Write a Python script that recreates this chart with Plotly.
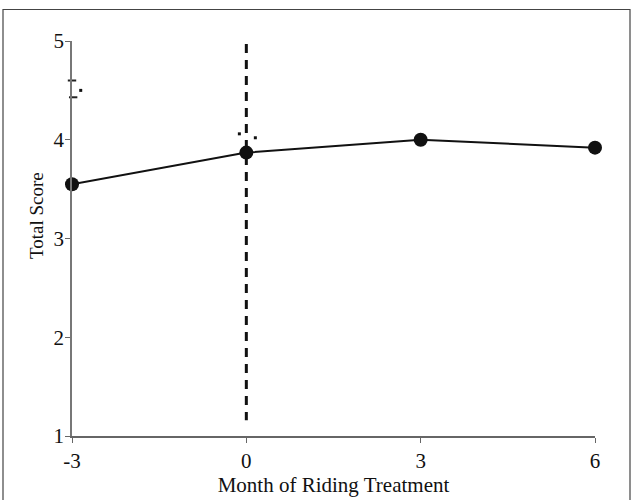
import plotly.graph_objects as go

months = [-3, 0, 3, 6]
total_score = [3.55, 3.87, 4.00, 3.92]

# small stray marks visible in the reference
dot_x = [-2.85, -0.12, 0.155]
dot_y = [4.50, 4.06, 4.02]
cap_x = [-3, -2.98]
cap_y = [4.60, 4.43]

treatment_start = 0
dash_range = [4.97, 1.16]

x_ticks = [-3, 0, 3, 6]
y_ticks = [1, 2, 3, 4, 5]

FONT = "Liberation Serif"

fig = go.Figure()

fig.add_shape(type="line", xref="x", yref="y",
              x0=treatment_start, x1=treatment_start,
              y0=dash_range[0], y1=dash_range[1],
              line=dict(color="#111111", width=3, dash="9px,7px"))

fig.add_trace(go.Scatter(x=months, y=total_score, mode="lines+markers",
                         line=dict(color="#111111", width=2),
                         marker=dict(size=14, color="#111111"),
                         showlegend=False, cliponaxis=False))

fig.add_trace(go.Scatter(x=dot_x, y=dot_y, mode="markers",
                         marker=dict(size=3, symbol="square", color="#111111"),
                         showlegend=False, cliponaxis=False))
fig.add_trace(go.Scatter(x=cap_x, y=cap_y, mode="markers",
                         marker=dict(size=6, symbol="line-ew-open", color="#222222",
                                     line=dict(color="#222222", width=2)),
                         showlegend=False, cliponaxis=False))

# outer frame
fig.add_shape(type="rect", xref="paper", yref="paper",
              x0=(3 - 72) / 523, x1=(630 - 72) / 523,
              y0=(436 - 515) / 395, y1=(436 - 9.5) / 395,
              line=dict(color="#444444", width=1.2), layer="below")

# y-axis title placed as in the reference (slightly above axis centre)
fig.add_annotation(text="Total Score", xref="paper", yref="paper",
                   x=(36 - 72) / 523, y=(436 - 216) / 395,
                   xanchor="center", yanchor="middle", textangle=-90,
                   showarrow=False, font=dict(size=19, family=FONT, color="#111111"))

fig.update_layout(
    width=633, height=500,
    margin=dict(l=72, r=38, t=41, b=64),
    paper_bgcolor="white", plot_bgcolor="white",
    font=dict(family=FONT, color="#111111"),
    xaxis=dict(range=[-3, 6], tickvals=x_ticks, ticktext=[str(v) for v in x_ticks],
               automargin=False,
               showgrid=False, zeroline=False, showline=True,
               linecolor="#666666", linewidth=1.5,
               ticks="outside", ticklen=5, tickcolor="#666666", tickwidth=1,
               tickfont=dict(size=21, family=FONT, color="#111111"),
               title=dict(text="Month of Riding Treatment",
                          font=dict(size=21, family=FONT, color="#111111"),
                          standoff=5)),
    yaxis=dict(range=[1, 5], tickvals=y_ticks,
               automargin=False, ticklabelstandoff=-3,
               showgrid=False, zeroline=False, showline=True,
               linecolor="#777777", linewidth=1.5,
               ticks="outside", ticklen=5, tickcolor="#666666", tickwidth=1,
               tickfont=dict(size=21, family=FONT, color="#111111")),
)

fig.write_html("out.html", post_script="document.body.style.margin='0';",
               config={"displayModeBar": False})
